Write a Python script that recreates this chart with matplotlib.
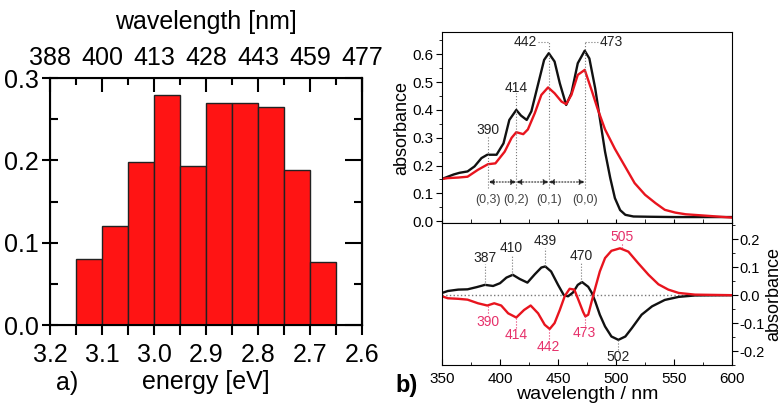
import numpy as np
import matplotlib.pyplot as plt
from matplotlib.ticker import MultipleLocator, FormatStrFormatter

plt.rcParams['font.family'] = ['Liberation Sans', 'DejaVu Sans']
plt.rcParams['axes.unicode_minus'] = False

# ---- panel a) histogram ----
bin_left = [3.15, 3.10, 3.05, 3.00, 2.95, 2.90, 2.85, 2.80, 2.75, 2.70]
bin_height = [0.080, 0.120, 0.198, 0.280, 0.193, 0.270, 0.270, 0.265, 0.188, 0.077]
energy_ticks = [3.2, 3.1, 3.0, 2.9, 2.8, 2.7, 2.6]
wl_labels = ['388', '400', '413', '428', '443', '459', '477']

# ---- panel b) absorption spectra (top) ----
top_blk_x = [350, 355, 360, 365, 372, 378, 384, 389, 397, 403, 408, 414, 418, 423, 427, 433,
             438, 442, 447, 451.5, 457, 461.5, 467, 473, 477, 482, 486, 490.5, 495, 499,
             503.5, 508, 515, 530, 550, 575, 600]
top_blk_y = [0.152, 0.160, 0.168, 0.174, 0.179, 0.197, 0.227, 0.239, 0.239, 0.280, 0.364, 0.400,
             0.380, 0.364, 0.395, 0.496, 0.580, 0.604, 0.574, 0.496, 0.418, 0.460, 0.568, 0.613,
             0.585, 0.478, 0.370, 0.250, 0.155, 0.083, 0.040, 0.023, 0.017, 0.016, 0.015, 0.015,
             0.015]
top_red_x = [350, 355, 364, 372, 381, 389.6, 396, 404, 410, 414, 420, 424, 430, 435.6, 441.4,
             447, 453, 457, 461.5, 467, 473, 479, 484, 490.5, 499, 508, 516, 525, 534, 542, 551,
             560, 577, 600]
top_red_y = [0.152, 0.155, 0.157, 0.160, 0.185, 0.205, 0.208, 0.250, 0.300, 0.320, 0.313, 0.330,
             0.389, 0.454, 0.481, 0.460, 0.430, 0.421, 0.454, 0.526, 0.544, 0.470, 0.405, 0.330,
             0.260, 0.195, 0.137, 0.095, 0.065, 0.041, 0.031, 0.025, 0.020, 0.013]
vib_peaks = [390, 414, 442, 473]
vib_label_y = [0.327, 0.480, 0.645, 0.645]
vib_names = ['(0,3)', '(0,2)', '(0,1)', '(0,0)']

# ---- panel b) difference spectra (bottom) ----
bot_blk_x = [350, 355, 364, 372, 380, 387, 394, 400, 405.5, 411, 417, 423.6, 430, 435.6, 439,
             444, 450, 455, 458.6, 463, 467, 470.7, 476, 479, 482, 486, 490.5, 496, 502, 508,
             513.6, 522, 531, 542, 554, 568, 600]
bot_blk_y = [0.008, 0.015, 0.020, 0.021, 0.029, 0.037, 0.033, 0.043, 0.063, 0.073, 0.058, 0.045,
             0.075, 0.099, 0.103, 0.085, 0.037, 0.000, -0.004, 0.010, 0.037, 0.047, 0.030, 0.009,
             -0.022, -0.070, -0.112, -0.148, -0.160, -0.148, -0.118, -0.070, -0.040, -0.017,
             -0.006, -0.001, 0.000]
bot_red_x = [350, 355, 364, 372, 381, 389, 395, 401, 407, 414, 420.7, 426.4, 432.8, 438.5, 442.8,
             447, 451.5, 455.8, 460, 464, 467, 471.6, 473.5, 476, 479, 482, 486, 490.5, 496,
             503.4, 510.6, 519, 528, 536.5, 545, 554, 568, 600]
bot_red_y = [-0.004, -0.011, -0.013, -0.016, -0.029, -0.037, -0.029, -0.037, -0.065, -0.080,
             -0.053, -0.037, -0.065, -0.106, -0.121, -0.100, -0.053, -0.003, 0.023, 0.020,
             -0.011, -0.060, -0.076, -0.070, -0.022, 0.025, 0.085, 0.133, 0.159, 0.168, 0.156,
             0.115, 0.073, 0.039, 0.020, 0.008, 0.002, 0.000]
blk_marks = [387, 410, 439, 470, 502]
blk_mark_curve = [0.037, 0.073, 0.103, 0.047, -0.160]
blk_mark_text = [0.135, 0.168, 0.195, 0.140, -0.220]
red_marks = [390, 414, 442, 473, 505]
red_mark_curve = [-0.037, -0.080, -0.121, -0.076, 0.168]
red_mark_text = [-0.097, -0.142, -0.184, -0.137, 0.207]

RED = '#e8141e'
PINK = '#e6306a'
GREY = '#777777'

fig = plt.figure(figsize=(7.84, 4.11), dpi=100)

# panel a
ax = fig.add_axes([0.0638, 0.209, 0.398, 0.601])
ax.bar(bin_left, bin_height, width=-0.05, align='edge', color='#ff1414',
       edgecolor='#222222', linewidth=1.0)
ax.set_xlim(3.2, 2.6)
ax.set_ylim(0, 0.3)
ax.set_xticks(energy_ticks)
ax.xaxis.set_minor_locator(MultipleLocator(0.05))
ax.xaxis.set_major_formatter(FormatStrFormatter('%.1f'))
ax.set_yticks([0.0, 0.1, 0.2, 0.3])
ax.yaxis.set_minor_locator(MultipleLocator(0.05))
ax.yaxis.set_major_formatter(FormatStrFormatter('%.1f'))
ax.tick_params(axis='x', which='major', direction='out', length=7, width=1.5,
               labelsize=18, pad=6)
ax.tick_params(axis='x', which='minor', direction='out', length=7, width=1.5)
ax.tick_params(axis='y', which='major', direction='inout', length=12, width=1.5,
               labelsize=18, pad=2)
ax.tick_params(axis='y', which='minor', direction='in', length=6, width=1.5)
for s in ax.spines.values():
    s.set_linewidth(1.5)
ax.set_xlabel('energy [eV]', fontsize=18, labelpad=2)

axr = ax.secondary_yaxis('right')
axr.set_yticks([0.0, 0.1, 0.2, 0.3])
axr.yaxis.set_minor_locator(MultipleLocator(0.05))
axr.tick_params(which='major', direction='in', length=12, width=1.5, labelright=False)
axr.tick_params(which='minor', direction='in', length=6, width=1.5)
axr.spines['right'].set_linewidth(1.5)

axt = ax.twiny()
axt.set_xlim(3.2, 2.6)
axt.set_xticks(energy_ticks)
axt.set_xticklabels(wl_labels)
axt.xaxis.set_minor_locator(MultipleLocator(0.05))
axt.tick_params(which='major', direction='in', length=10, width=1.5, labelsize=18, pad=6)
axt.tick_params(which='minor', direction='in', length=5, width=1.5)
axt.set_xlabel('wavelength [nm]', fontsize=18, labelpad=12)
fig.text(0.072, 0.068, 'a)', fontsize=18, ha='left', va='center')

# panel b top
at = fig.add_axes([0.5638, 0.457, 0.370, 0.465])
at.plot(top_blk_x, top_blk_y, color='#111111', lw=1.7)
at.plot(top_red_x, top_red_y, color=RED, lw=1.7)
at.set_xlim(350, 600)
at.set_ylim(-0.007, 0.68)
at.set_yticks(np.arange(0, 0.61, 0.1))
at.yaxis.set_major_formatter(FormatStrFormatter('%.1f'))
at.yaxis.set_minor_locator(MultipleLocator(0.05))
at.xaxis.set_minor_locator(MultipleLocator(25))
at.tick_params(axis='y', which='major', direction='out', length=4, labelsize=11, pad=2)
at.tick_params(axis='y', which='minor', direction='out', length=2)
at.tick_params(axis='x', which='both', direction='in', length=3, labelbottom=False)
at.set_ylabel('absorbance', fontsize=13, labelpad=2)

for i, p in enumerate(vib_peaks):
    at.plot([p, p], [0.12, vib_label_y[i] - 0.02 if i < 2 else vib_label_y[i]],
            color=GREY, lw=0.8, ls=':')
    at.text(p, 0.075, vib_names[i], ha='center', va='center', fontsize=9, color='#444444')
at.text(390, 0.327, '390', ha='center', va='center', fontsize=10, color='#222222')
at.text(414, 0.480, '414', ha='center', va='center', fontsize=10, color='#222222')
at.text(432, 0.645, '442', ha='right', va='center', fontsize=10, color='#222222')
at.text(486, 0.645, '473', ha='left', va='center', fontsize=10, color='#222222')
at.plot([432.5, 442], [0.645, 0.645], color=GREY, lw=0.8, ls=':')
at.plot([473, 485.5], [0.645, 0.645], color=GREY, lw=0.8, ls=':')
for a, b in zip(vib_peaks[:-1], vib_peaks[1:]):
    at.annotate('', xy=(a, 0.141), xytext=(b, 0.141),
                arrowprops=dict(arrowstyle='<|-|>', color='#222222', lw=0.8, ls=':',
                                mutation_scale=8, shrinkA=0, shrinkB=0))

# panel b bottom
ab = fig.add_axes([0.5638, 0.112, 0.370, 0.345], sharex=at)
ab.axhline(0, color=GREY, lw=1.0, ls=':')
ab.plot(bot_blk_x, bot_blk_y, color='#111111', lw=1.7)
ab.plot(bot_red_x, bot_red_y, color=RED, lw=1.7)
ab.set_ylim(-0.25, 0.258)
ab.set_yticks([-0.2, -0.1, 0.0, 0.1, 0.2])
ab.yaxis.set_major_formatter(FormatStrFormatter('%.1f'))
ab.yaxis.set_minor_locator(MultipleLocator(0.05))
ab.yaxis.tick_right()
ab.yaxis.set_label_position('right')
ab.set_xticks([350, 400, 450, 500, 550, 600])
ab.tick_params(axis='y', which='major', direction='out', length=4, labelsize=10.5, pad=1)
ab.tick_params(axis='y', which='minor', direction='out', length=2)
ab.tick_params(axis='x', which='major', direction='in', length=4, labelsize=11, pad=5)
ab.tick_params(axis='x', which='minor', direction='in', length=2)
ab.set_ylabel('absorbance', fontsize=13, labelpad=1)
ab.set_xlabel('wavelength / nm', fontsize=14, labelpad=0)

for x, yc, yt in zip(blk_marks, blk_mark_curve, blk_mark_text):
    off = -0.025 if yt > yc else 0.025
    ab.plot([x, x], [yc, yt + off], color=GREY, lw=0.8, ls=':')
    ab.text(x, yt, str(x), ha='center', va='center', fontsize=10, color='#222222')
for x, yc, yt in zip(red_marks, red_mark_curve, red_mark_text):
    off = -0.025 if yt > yc else 0.025
    ab.plot([x, x], [yc, yt + off], color=PINK, lw=0.8, ls=':')
    ab.text(x, yt, str(x), ha='center', va='center', fontsize=10, color=PINK)

fig.text(0.505, 0.062, 'b)', fontsize=17, fontweight='bold', ha='left', va='center')

fig.savefig('out.png', dpi=100)
